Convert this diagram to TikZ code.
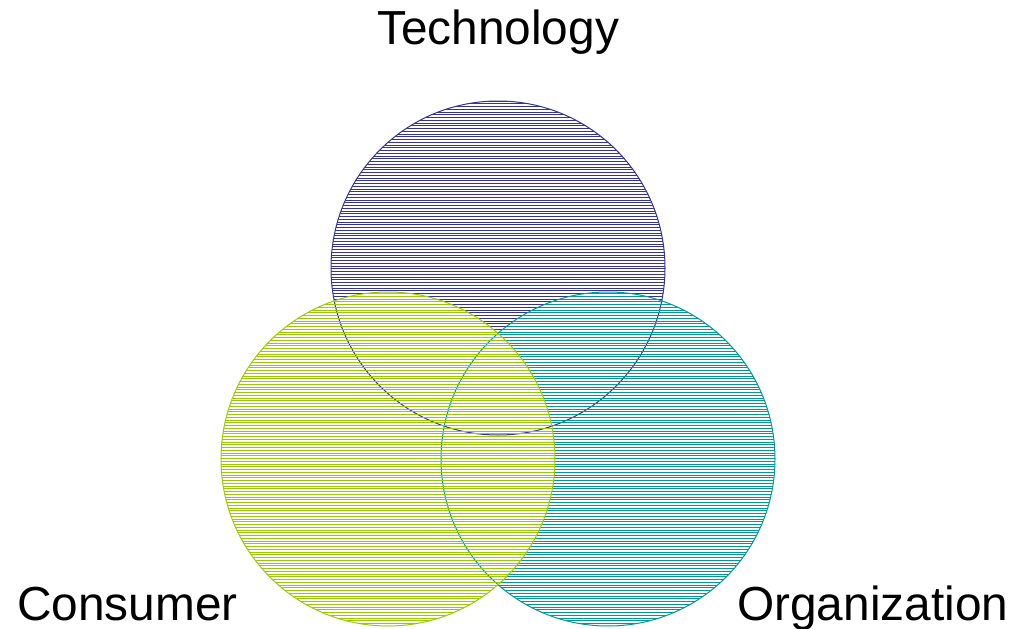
\documentclass[tikz,border=0pt]{standalone}
\usepackage{fontspec}
\setmainfont{Liberation Sans}
\definecolor{techblue}{HTML}{333399}
\definecolor{consgreen}{HTML}{99CC00}
\definecolor{orgteal}{HTML}{009999}
\begin{document}
\begin{tikzpicture}[x=1pt,y=-1pt,
  label/.style={font=\fontsize{47.8}{57}\selectfont, inner sep=0pt},
  rim/.style={line width=1pt}]
\useasboundingbox (0,0) rectangle (1010,629);
% hatched disc: horizontal lines on a shared grid, clipped to the circle
\newcommand{\hatchdisc}[4]{% centre x, centre y, radius, colour
  \begin{scope}
    \clip (#1,#2) circle[radius=#3];
    \foreach \yy in {90,92.75,...,640}
      \draw[#4, line width=1pt] (#1-#3-2,\yy) -- (#1+#3+2,\yy);
  \end{scope}
  \draw[#4, rim] (#1,#2) circle[radius=#3];
}
\hatchdisc{498}{268}{167}{techblue}
\coordinate (tech) at (498,268);
\hatchdisc{608}{459}{167}{orgteal}
\coordinate (org) at (608,459);
\hatchdisc{388}{459}{167}{consgreen}
\coordinate (cons) at (388,459);

\node[label, anchor=base] (tlabel) at (498,45) {Technology};
\node[label, anchor=base west] (clabel) at (17,620) {Consumer};
\node[label, anchor=base west] (olabel) at (737,620) {Organization};
\end{tikzpicture}
\end{document}
